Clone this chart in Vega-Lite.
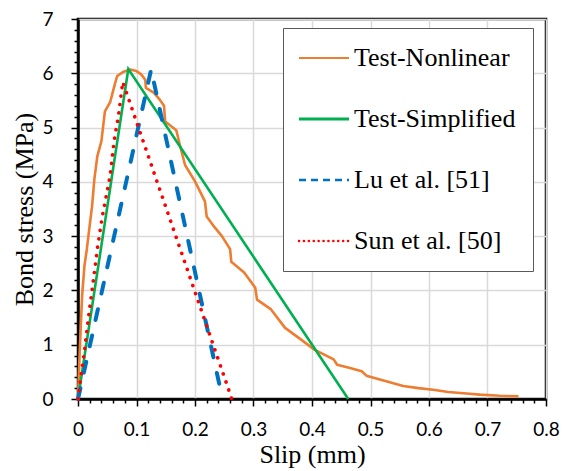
{
  "$schema": "https://vega.github.io/schema/vega-lite/v6.json",
  "width": 468,
  "height": 380,
  "autosize": {"type": "none"},
  "padding": {"left": 78, "top": 19, "right": 22, "bottom": 72},
  "background": "white",
  "config": {
    "view": {"stroke": "black", "strokeWidth": 2.5},
    "axis": {
      "domainColor": "black", "domainWidth": 2.5,
      "tickColor": "black", "tickWidth": 1.5,
      "gridColor": "#d9d9d9", "gridWidth": 1.5,
      "labelFont": "Lato", "labelFontSize": 19, "labelColor": "black",
      "titleFont": "serif", "titleFontSize": 26, "titleFontWeight": "normal", "titleColor": "black"
    }
  },
  "data": {"values": [
    {"series": "Test-Nonlinear", "x": 0, "y": 0},
    {"series": "Test-Nonlinear", "x": 0.003, "y": 0.9},
    {"series": "Test-Nonlinear", "x": 0.007, "y": 1.9},
    {"series": "Test-Nonlinear", "x": 0.011, "y": 2.45},
    {"series": "Test-Nonlinear", "x": 0.015, "y": 2.75},
    {"series": "Test-Nonlinear", "x": 0.02, "y": 3.2},
    {"series": "Test-Nonlinear", "x": 0.024, "y": 3.55},
    {"series": "Test-Nonlinear", "x": 0.028, "y": 4.05},
    {"series": "Test-Nonlinear", "x": 0.033, "y": 4.47},
    {"series": "Test-Nonlinear", "x": 0.04, "y": 4.75},
    {"series": "Test-Nonlinear", "x": 0.046, "y": 5.3},
    {"series": "Test-Nonlinear", "x": 0.055, "y": 5.47},
    {"series": "Test-Nonlinear", "x": 0.063, "y": 5.8},
    {"series": "Test-Nonlinear", "x": 0.067, "y": 5.95},
    {"series": "Test-Nonlinear", "x": 0.078, "y": 6.03},
    {"series": "Test-Nonlinear", "x": 0.089, "y": 6.07},
    {"series": "Test-Nonlinear", "x": 0.1, "y": 6.04},
    {"series": "Test-Nonlinear", "x": 0.108, "y": 5.98},
    {"series": "Test-Nonlinear", "x": 0.115, "y": 5.88},
    {"series": "Test-Nonlinear", "x": 0.116, "y": 5.73},
    {"series": "Test-Nonlinear", "x": 0.13, "y": 5.64},
    {"series": "Test-Nonlinear", "x": 0.14, "y": 5.51},
    {"series": "Test-Nonlinear", "x": 0.147, "y": 5.4},
    {"series": "Test-Nonlinear", "x": 0.149, "y": 5.11},
    {"series": "Test-Nonlinear", "x": 0.168, "y": 4.95},
    {"series": "Test-Nonlinear", "x": 0.176, "y": 4.6},
    {"series": "Test-Nonlinear", "x": 0.183, "y": 4.31},
    {"series": "Test-Nonlinear", "x": 0.2, "y": 4.01},
    {"series": "Test-Nonlinear", "x": 0.217, "y": 3.64},
    {"series": "Test-Nonlinear", "x": 0.22, "y": 3.36},
    {"series": "Test-Nonlinear", "x": 0.233, "y": 3.17},
    {"series": "Test-Nonlinear", "x": 0.246, "y": 3.0},
    {"series": "Test-Nonlinear", "x": 0.26, "y": 2.76},
    {"series": "Test-Nonlinear", "x": 0.262, "y": 2.53},
    {"series": "Test-Nonlinear", "x": 0.284, "y": 2.33},
    {"series": "Test-Nonlinear", "x": 0.303, "y": 2.05},
    {"series": "Test-Nonlinear", "x": 0.306, "y": 1.83},
    {"series": "Test-Nonlinear", "x": 0.33, "y": 1.65},
    {"series": "Test-Nonlinear", "x": 0.354, "y": 1.31},
    {"series": "Test-Nonlinear", "x": 0.382, "y": 1.09},
    {"series": "Test-Nonlinear", "x": 0.404, "y": 0.91},
    {"series": "Test-Nonlinear", "x": 0.437, "y": 0.73},
    {"series": "Test-Nonlinear", "x": 0.443, "y": 0.63},
    {"series": "Test-Nonlinear", "x": 0.465, "y": 0.57},
    {"series": "Test-Nonlinear", "x": 0.485, "y": 0.51},
    {"series": "Test-Nonlinear", "x": 0.493, "y": 0.43},
    {"series": "Test-Nonlinear", "x": 0.513, "y": 0.37},
    {"series": "Test-Nonlinear", "x": 0.533, "y": 0.31},
    {"series": "Test-Nonlinear", "x": 0.556, "y": 0.24},
    {"series": "Test-Nonlinear", "x": 0.582, "y": 0.2},
    {"series": "Test-Nonlinear", "x": 0.607, "y": 0.17},
    {"series": "Test-Nonlinear", "x": 0.633, "y": 0.13},
    {"series": "Test-Nonlinear", "x": 0.664, "y": 0.1},
    {"series": "Test-Nonlinear", "x": 0.687, "y": 0.08},
    {"series": "Test-Nonlinear", "x": 0.721, "y": 0.06},
    {"series": "Test-Nonlinear", "x": 0.753, "y": 0.05},
    {"series": "Test-Simplified", "x": 0, "y": 0},
    {"series": "Test-Simplified", "x": 0.086, "y": 6.08},
    {"series": "Test-Simplified", "x": 0.462, "y": 0},
    {"series": "Lu et al. [51]", "x": 0, "y": 0},
    {"series": "Lu et al. [51]", "x": 0.125, "y": 6.07},
    {"series": "Lu et al. [51]", "x": 0.247, "y": 0},
    {"series": "Sun et al. [50]", "x": 0, "y": 0},
    {"series": "Sun et al. [50]", "x": 0.0034, "y": 0.29},
    {"series": "Sun et al. [50]", "x": 0.011, "y": 0.88},
    {"series": "Sun et al. [50]", "x": 0.0177, "y": 1.49},
    {"series": "Sun et al. [50]", "x": 0.026, "y": 2.17},
    {"series": "Sun et al. [50]", "x": 0.0336, "y": 2.81},
    {"series": "Sun et al. [50]", "x": 0.041, "y": 3.33},
    {"series": "Sun et al. [50]", "x": 0.0547, "y": 4.1},
    {"series": "Sun et al. [50]", "x": 0.062, "y": 4.78},
    {"series": "Sun et al. [50]", "x": 0.069, "y": 5.21},
    {"series": "Sun et al. [50]", "x": 0.0765, "y": 5.84},
    {"series": "Sun et al. [50]", "x": 0.263, "y": 0}
  ]},
  "encoding": {
    "x": {
      "field": "x", "type": "quantitative",
      "scale": {"domain": [0, 0.8], "nice": false, "zero": false},
      "axis": {
        "title": "Slip (mm)",
        "values": [0,0.02,0.04,0.06,0.08,0.1,0.12,0.14,0.16,0.18,0.2,0.22,0.24,0.26,0.28,0.3,0.32,0.34,0.36,0.38,0.4,0.42,0.44,0.46,0.48,0.5,0.52,0.54,0.56,0.58,0.6,0.62,0.64,0.66,0.68,0.7,0.72,0.74,0.76,0.78,0.8],
        "labelExpr": "abs(datum.value*10-round(datum.value*10))<0.001 ? format(datum.value, '.1~f') : ''",
        "tickSize": {"condition": {"test": "abs(datum.value*10-round(datum.value*10))<0.001", "value": 7}, "value": 4},
        "gridOpacity": {"condition": {"test": "abs(datum.value*10-round(datum.value*10))<0.001", "value": 1}, "value": 0},
        "labelPadding": 14,
        "titlePadding": 2,
        "labelFlush": false,
        "labelOverlap": false
      }
    },
    "y": {
      "field": "y", "type": "quantitative",
      "scale": {"domain": [0, 7], "nice": false},
      "axis": {
        "title": "Bond stress (MPa)",
        "values": [0,0.2,0.4,0.6,0.8,1,1.2,1.4,1.6,1.8,2,2.2,2.4,2.6,2.8,3,3.2,3.4,3.6,3.8,4,4.2,4.4,4.6,4.8,5,5.2,5.4,5.6,5.8,6,6.2,6.4,6.6,6.8,7],
        "labelExpr": "abs(datum.value-round(datum.value))<0.001 ? format(datum.value, '.0f') : ''",
        "tickSize": {"condition": {"test": "abs(datum.value-round(datum.value))<0.001", "value": 7}, "value": 4},
        "gridOpacity": {"condition": {"test": "abs(datum.value-round(datum.value))<0.001", "value": 1}, "value": 0},
        "labelPadding": 18,
        "titlePadding": 4,
        "labelFlush": false,
        "labelOverlap": false
      }
    },
    "color": {
      "field": "series", "type": "nominal",
      "scale": {
        "domain": ["Test-Nonlinear", "Test-Simplified", "Lu et al. [51]", "Sun et al. [50]"],
        "range": ["#ED7D31", "#00B050", "#0070C0", "#FF0000"]
      },
      "legend": {
        "title": null,
        "orient": "none",
        "legendX": 205,
        "legendY": 9,
        "direction": "vertical",
        "symbolType": "stroke",
        "symbolSize": 2500,
        "symbolStrokeWidth": 2.5,
        "symbolOffset": 11,
        "labelFont": "serif",
        "labelFontSize": 26,
        "labelColor": "black",
        "labelLimit": 400,
        "labelOffset": 17,
        "rowPadding": 35,
        "padding": 17,
        "strokeColor": "#595959",
        "fillColor": "white",
        "encode": {
          "symbols": {
            "update": {
              "strokeDash": {"signal": "datum.value === 'Lu et al. [51]' ? [7,5] : datum.value === 'Sun et al. [50]' ? [0.1,4.8] : [1,0]"},
              "strokeWidth": {"signal": "datum.value === 'Test-Nonlinear' ? 2 : datum.value === 'Test-Simplified' ? 3 : 2.5"},
              "strokeCap": {"signal": "datum.value === 'Sun et al. [50]' ? 'round' : 'butt'"}
            }
          }
        }
      }
    }
  },
  "layer": [
    {
      "transform": [{"filter": "datum.series === 'Test-Nonlinear'"}],
      "mark": {"type": "line", "strokeWidth": 2.6, "strokeJoin": "round"}
    },
    {
      "transform": [{"filter": "datum.series === 'Test-Simplified'"}],
      "mark": {"type": "line", "strokeWidth": 2.6}
    },
    {
      "transform": [{"filter": "datum.series === 'Lu et al. [51]'"}],
      "mark": {"type": "line", "strokeWidth": 4, "strokeDash": [11, 16], "strokeCap": "round"}
    },
    {
      "transform": [{"filter": "datum.series === 'Sun et al. [50]'"}],
      "mark": {"type": "line", "strokeWidth": 3.6, "strokeDash": [0.1, 8.4], "strokeCap": "round"}
    }
  ]
}
